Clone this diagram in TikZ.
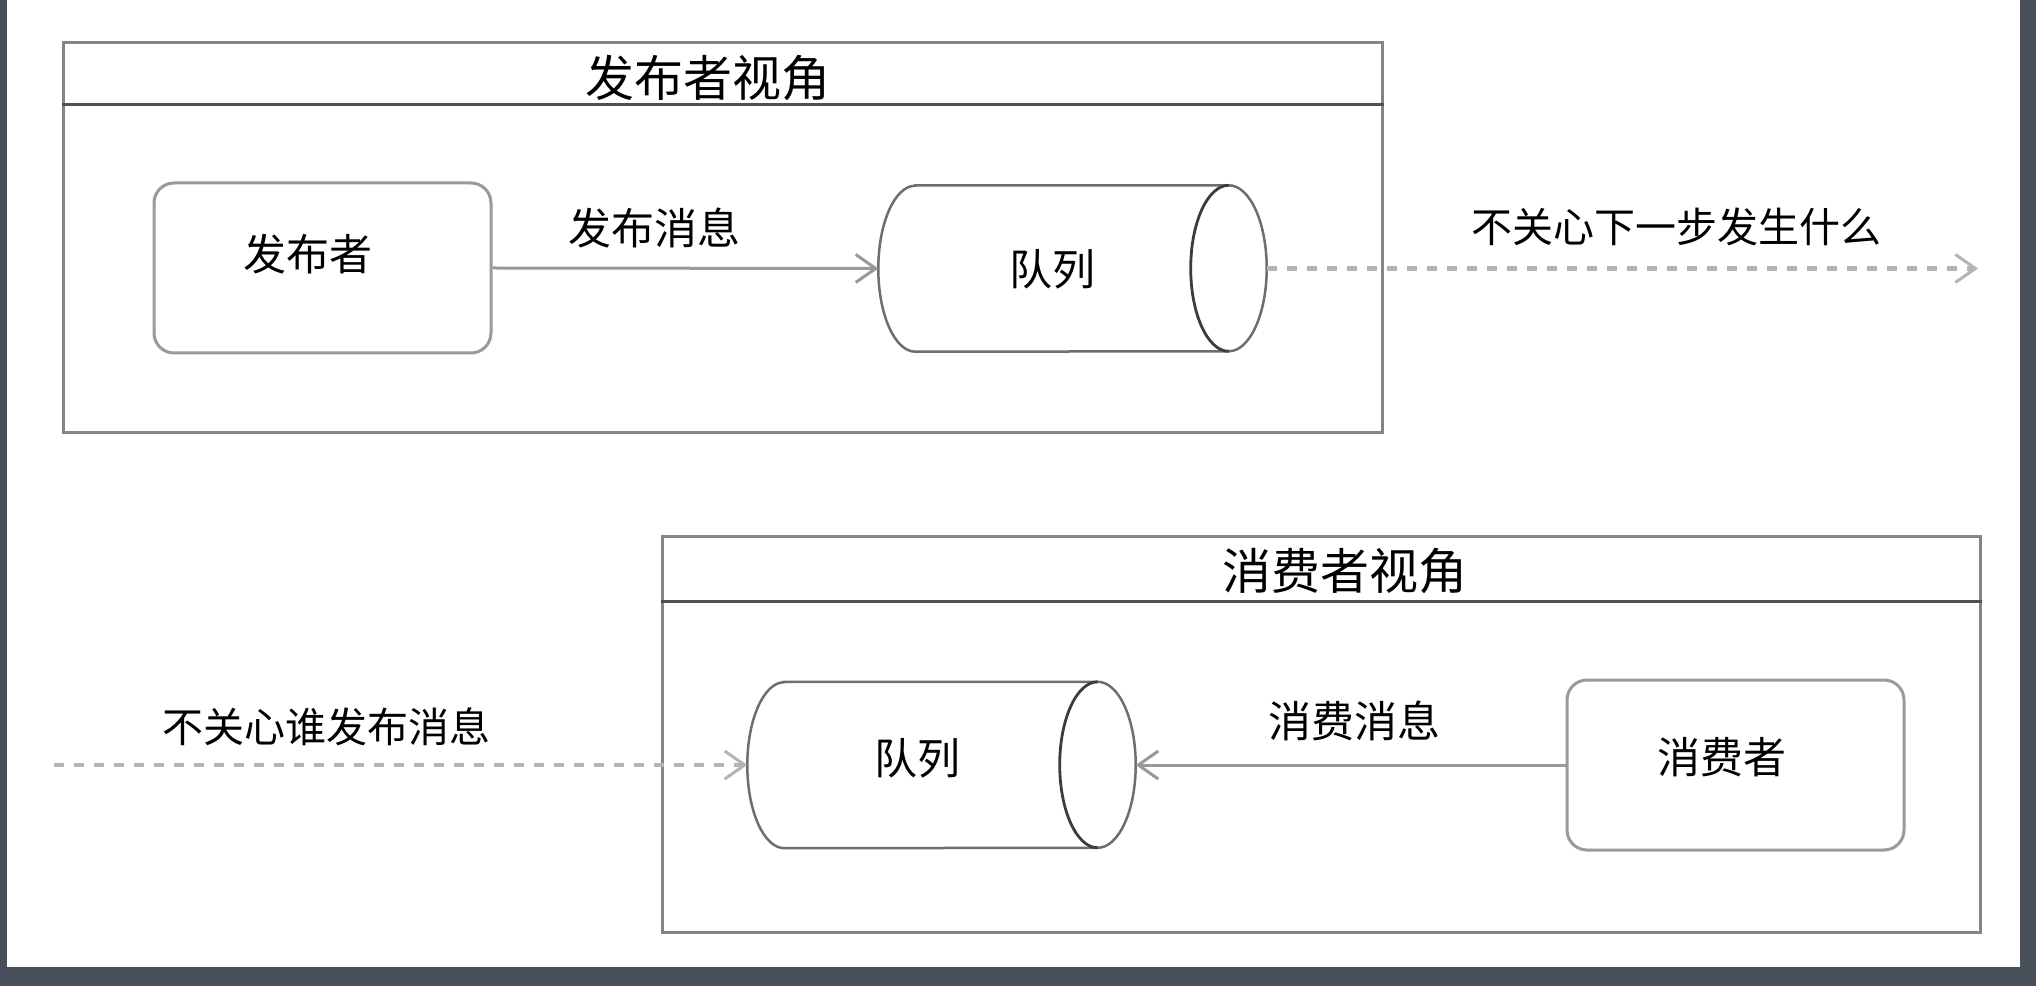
\documentclass[tikz,border=0pt]{standalone}
\usepackage{fontspec}
\newfontfamily\cjk{Noto Sans CJK SC}
\usetikzlibrary{arrows.meta}
\definecolor{bgdark}{HTML}{474F5B}
\definecolor{boxgray}{HTML}{9A9A9A}
\definecolor{framegray}{HTML}{858585}
\definecolor{headgray}{HTML}{505050}
\definecolor{cylgray}{HTML}{6E6E6E}
\definecolor{cyldark}{HTML}{3C3C3C}
\definecolor{arrgray}{HTML}{999999}
\definecolor{dashgray}{HTML}{B4B4B4}
\tikzset{
  framebox/.style={draw=framegray, line width=3pt, fill=white, inner sep=0pt},
  headline/.style={draw=headgray, line width=3.5pt},
  roundbox/.style={draw=boxgray, line width=3pt, rounded corners=20pt, fill=white,
    minimum width=337pt, minimum height=170pt, inner sep=0pt},
  cylnode/.style={draw=none, minimum width=388pt, minimum height=166pt, inner sep=0pt},
  cylline/.style={draw=cylgray, line width=2.5pt, fill=white},
  cylinner/.style={draw=cyldark, line width=2.8pt},
  titletext/.style={font=\cjk\fontsize{49pt}{56pt}\selectfont, inner sep=0pt},
  nodetext/.style={font=\cjk\fontsize{43pt}{50pt}\selectfont, inner sep=0pt},
  labeltext/.style={font=\cjk\fontsize{43pt}{50pt}\selectfont, inner sep=0pt},
  longlabel/.style={font=\cjk\fontsize{41pt}{48pt}\selectfont, inner sep=0pt},
  solidarrow/.style={draw=arrgray, line width=3pt, -{Straight Barb[length=20pt,width=28pt]}},
  dasharrow/.style={draw=dashgray, line width=4.5pt, dash pattern=on 10pt off 10pt,
    -{Straight Barb[length=20pt,width=28pt,line width=3pt]}},
}
\newcommand\qcylinder[3]{%
  \node[cylnode] (#1) at (#2,#3) {};
  \draw[cylline] ([xshift=37pt]#1.north west) -- ([xshift=-38pt]#1.north east)
    arc[start angle=90, end angle=-90, x radius=38pt, y radius=83pt]
    -- ([xshift=37pt]#1.south west)
    arc[start angle=270, end angle=90, x radius=37pt, y radius=83pt] -- cycle;
  \draw[cylinner] ([xshift=-38pt]#1.north east)
    arc[start angle=90, end angle=270, x radius=38pt, y radius=83pt];
}
\begin{document}
\begin{tikzpicture}[x=1pt,y=1pt]
\useasboundingbox (0,0) rectangle (2036,986);
\fill[bgdark] (0,0) rectangle (2036,986);
\fill[white] (7,19) rectangle (2020,986);

% publisher frame
\node[framebox, minimum width=1319pt, minimum height=390pt] (pubframe) at (722.5,748) {};
\draw[headline] ([yshift=-63pt]pubframe.north west) -- ([yshift=-63pt]pubframe.north east);
\node[titletext] (pubtitle) at (708,908) {发布者视角};

% consumer frame
\node[framebox, minimum width=1318pt, minimum height=395pt] (conframe) at (1321,251.5) {};
\draw[headline] ([yshift=-66pt]conframe.north west) -- ([yshift=-66pt]conframe.north east);
\node[titletext] (contitle) at (1345,415) {消费者视角};

% publisher side
\node[roundbox] (pub) at (322.5,718) {};
\node[nodetext] (pubtext) at (308,732) {发布者};
\qcylinder{q1}{1072.5}{717.5}
\node[nodetext] (q1text) at (1052,717) {队列};
\draw[solidarrow] (pub.east) -- (q1.west);
\node[labeltext] (publabel) at (654,758) {发布消息};
\coordinate (outend) at (1978,717.5);
\draw[dasharrow] (q1.east) -- (outend);
\node[longlabel] (outlabel) at (1676,759) {不关心下一步发生什么};

% consumer side
\qcylinder{q2}{941.5}{221}
\node[nodetext] (q2text) at (917,228) {队列};
\node[roundbox] (con) at (1735.5,221) {};
\node[nodetext] (context) at (1722,229) {消费者};
\draw[solidarrow] (con.west) -- (q2.east);
\node[labeltext] (conlabel) at (1354,265) {消费消息};
\coordinate (instart) at (54,221);
\draw[dasharrow] (instart) -- (q2.west);
\node[longlabel] (inlabel) at (326,259) {不关心谁发布消息};
\end{tikzpicture}
\end{document}
